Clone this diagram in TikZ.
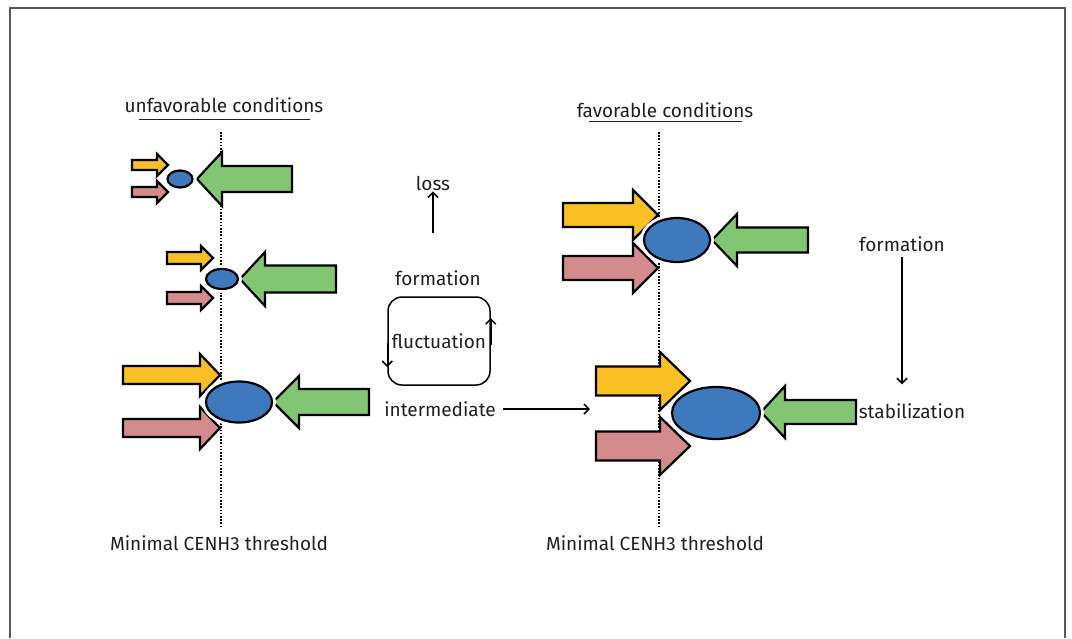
\documentclass[tikz,border=0pt]{standalone}
\usepackage{fontspec}
\setmainfont{Fira Sans}
\usetikzlibrary{arrows.meta, positioning, shapes.geometric}

\definecolor{armyellow}{HTML}{FBBF26}
\definecolor{armpink}{HTML}{D48B8B}
\definecolor{armgreen}{HTML}{82C673}
\definecolor{blobblue}{HTML}{3F79BD}
\definecolor{inkgray}{HTML}{231F20}

% block arrows: fill, tip x, y, length, head length, shaft half, head half
\newcommand{\rblock}[7]{%
  \draw[blockarrow, fill=#1] (#2-#4,#3-#6) -- (#2-#5,#3-#6) -- (#2-#5,#3-#7) -- (#2,#3)
    -- (#2-#5,#3+#7) -- (#2-#5,#3+#6) -- (#2-#4,#3+#6) -- cycle;}
\newcommand{\lblock}[7]{%
  \draw[blockarrow, fill=#1] (#2+#4,#3-#6) -- (#2+#5,#3-#6) -- (#2+#5,#3-#7) -- (#2,#3)
    -- (#2+#5,#3+#7) -- (#2+#5,#3+#6) -- (#2+#4,#3+#6) -- cycle;}

\begin{document}
\begin{tikzpicture}[
    x=1pt, y=-1pt,
    every node/.style={font=\fontsize{19}{22}\selectfont, text=inkgray, inner sep=1pt},
    blockarrow/.style={draw=black, line width=2.2pt, line join=miter},
    blob/.style={ellipse, draw=black, fill=blobblue, line width=2.2pt, inner sep=0pt,
      preaction={draw=white, line width=8pt}},
    threshold/.style={line width=1.6pt, dash pattern=on 1.6pt off 1.6pt},
    flow/.style={-{Straight Barb[length=5pt, width=10pt, line width=1.5pt]}, line width=1.5pt}
]
\useasboundingbox (0,0) rectangle (1072,638);
\draw[line width=2pt, black!65] (10,638) -- (10,8) -- (1065,8) -- (1065,638);

% headings
\node (unfav) at (224,105) {unfavorable conditions};
\node (fav) at (665,110) {favorable conditions};
\draw[line width=1pt, inkgray] (139,119) -- (310,119);
\draw[line width=1pt, inkgray] (589,121) -- (742,121);

% thresholds
\draw[threshold] (221,132) -- (221,527);
\draw[threshold] (659,132) -- (659,527);
\node (threshA) at (219,543) {Minimal CENH3 threshold};
\node (threshB) at (655,543) {Minimal CENH3 threshold};

% unfavorable: small, medium, intermediate
\rblock{armyellow}{168}{165}{36}{11}{5}{11}
\rblock{armpink}{168}{192}{36}{11}{5}{11}
\lblock{armgreen}{197}{179}{95}{25}{13}{27}
\node (blobA) [blob, minimum width=25pt, minimum height=17pt] at (180,179) {};

\rblock{armyellow}{213}{258}{46}{12}{6}{12}
\rblock{armpink}{213}{298}{46}{12}{6}{12}
\lblock{armgreen}{240}{279}{96}{25}{13.5}{27}
\node (blobB) [blob, minimum width=32pt, minimum height=20pt] at (222,279) {};

\rblock{armyellow}{220}{375}{97}{20}{9}{21}
\rblock{armpink}{220}{428}{97}{20}{9}{21}
\lblock{armgreen}{273}{402}{96}{26}{13}{26}
\node (blobC) [blob, minimum width=66pt, minimum height=41pt] at (239,402) {};

% favorable: formation, stabilization
\rblock{armyellow}{658}{215}{95}{25}{12}{25}
\rblock{armpink}{658}{268}{95}{25}{12}{25}
\lblock{armgreen}{712}{240}{96}{25}{12.5}{26}
\node (blobD) [blob, minimum width=66pt, minimum height=44pt] at (677,240) {};

\rblock{armyellow}{690}{381}{94}{30}{14.5}{29}
\rblock{armpink}{690}{446}{94}{30}{14.5}{29}
\lblock{armgreen}{761}{412}{95}{24}{12}{26}
\node (blobE) [blob, minimum width=88pt, minimum height=52pt] at (716,413) {};

% middle
\node (loss) at (433,183) {loss};
\node (formA) at (438,278) {formation};
\node (fluct) [draw, line width=1.5pt, rounded corners=14pt, minimum width=102pt, minimum height=88pt] at (439,341) {fluctuation};
\node (inter) at (440,409) {intermediate};
\coordinate (interend) at (590,409);
\draw[flow] ([xshift=-5pt, yshift=36pt]formA.north) -- (loss);
\draw[flow] ([yshift=-2pt]fluct.west) -- ([yshift=-26pt]fluct.west);
\draw[flow] ([yshift=-4pt]fluct.east) -- ([yshift=23pt]fluct.east);
\draw[flow, shorten <=6pt] (inter) -- (interend);

% right
\node (formB) at (902,244) {formation};
\node (stab) at (912,411) {stabilization};
\draw[flow, shorten <=4pt] (formB) -- ([yshift=18pt]stab.north -| formB);
\end{tikzpicture}
\end{document}
